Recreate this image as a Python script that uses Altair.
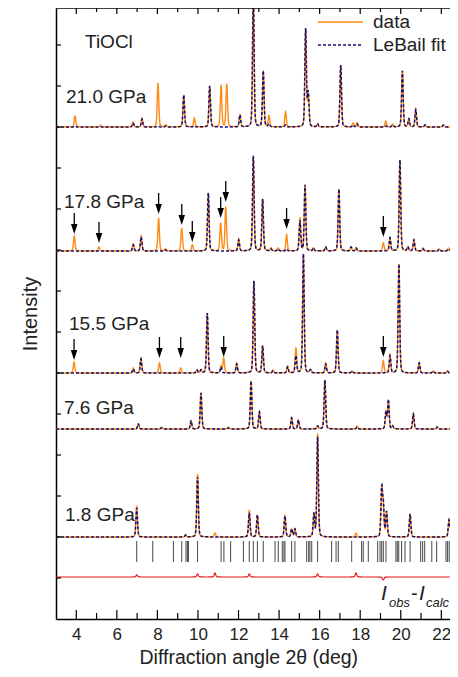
import altair as alt
import numpy as np
import pandas as pd

FONT = "Liberation Sans"
ORANGE = "#ff8a14"
NAVY = "#10107a"
RED = "#e8141a"

# ---------------- data ----------------
# peak positions (2theta, deg), observed and LeBail-calculated heights (intensity units)
P21_POS = [3.94, 5.2, 6.8, 7.24, 8.03, 8.42, 9.3, 9.82, 10.58, 11.14, 11.42, 12.07, 12.73, 13.22, 13.5,
           14.32, 15.31, 15.44, 15.9, 17.04, 17.65, 17.85, 19.26, 19.6, 20.08, 20.4, 20.74, 21.2, 22.1, 22.7]
P21_OBS = [11, 2, 5, 9, 44, 2, 32, 9, 41, 42, 43, 12, 135, 56, 11,
           15, 98, 30, 3, 62, 4, 4, 6, 3, 56, 8, 18, 2, 2, 3]
P21_CALC = [1, 0, 4, 8, 1, 1, 32, 1, 41, 0, 0, 12, 135, 56, 3,
            2, 98, 34, 3, 62, 2, 3, 1, 2, 56, 8, 17, 2, 2, 2]

P178_POS = [3.9, 5.12, 6.81, 7.2, 8.06, 8.4, 9.2, 9.72, 10.51, 11.12, 11.37, 12.01, 12.73, 13.19, 13.6,
            13.95, 14.37, 15.03, 15.28, 15.7, 16.3, 16.95, 17.55, 17.8, 19.14, 19.47, 19.96, 20.35, 20.65,
            21.1, 21.9, 22.35]
P178_OBS = [15, 4, 7, 15, 33, 2, 23, 6, 58, 28, 44, 12, 95, 52, 3,
            3, 16, 33, 66, 3, 4, 62, 4, 3, 8, 13, 91, 4, 11,
            3, 2, 3]
P178_CALC = [0, 0, 6, 14, 0, 1, 0, 0, 58, 0, 0, 11, 95, 52, 2,
             2, 2, 30, 66, 3, 4, 62, 4, 3, 0, 13, 91, 4, 11,
             2, 2, 2]

P155_POS = [3.89, 6.81, 7.19, 8.1, 9.15, 9.95, 10.15, 10.46, 11.14, 11.27, 11.91, 12.76, 13.19, 13.7,
            14.42, 14.83, 15.2, 15.55, 16.3, 16.87, 17.6, 19.14, 19.47, 19.91, 20.91, 21.6, 22.3]
P155_OBS = [11, 5, 15, 10, 5, 3, 3, 60, 7, 15, 10, 92, 27, 3,
            7, 25, 119, 3, 10, 43, 2, 12, 18, 109, 10, 2, 2]
P155_CALC = [0, 4, 14, 0, 0, 3, 3, 60, 6, 0, 9, 92, 27, 2,
             6, 17, 119, 3, 9, 43, 2, 0, 17, 109, 10, 2, 2]

P76_POS = [7.06, 8.2, 9.66, 10.15, 11.5, 12.62, 13.03, 14.62, 14.95, 15.9, 16.26, 17.85, 19.27, 19.39,
           19.6, 20.62, 21.8, 22.5]
P76_OBS = [5, 2, 8, 36, 2, 48, 17, 11, 9, 3, 49, 3, 17, 29, 3, 15, 2, 2]
P76_CALC = [5, 1, 8, 36, 1, 48, 17, 11, 9, 3, 49, 2, 17, 29, 3, 15, 2, 2]

P18_POS = [6.98, 9.4, 9.98, 10.84, 12.53, 12.93, 14.29, 14.62, 14.78, 15.72, 15.9, 17.79, 19.06, 19.14,
           19.3, 20.46, 22.38, 22.62]
P18_OBS = [31, 2, 63, 4, 27, 22, 21, 8, 8, 23, 103, 4, 47, 28, 25, 23, 17, 13]
P18_CALC = [29, 2, 60, 0, 24, 22, 21, 8, 8, 23, 100, 0, 47, 31, 25, 23, 17, 13]

PRESSURES = ["21.0 GPa", "17.8 GPa", "15.5 GPa", "7.6 GPa", "1.8 GPa"]
BASELINES = [492, 368, 246, 190, 82]
DIFF_BASE = 42

# Bragg reflection positions (1.8 GPa)
HKL_POS = [6.98, 7.77, 8.79, 9.2, 9.41, 9.48, 9.53, 9.98, 11.14, 11.28, 11.61, 12.24, 12.53, 12.73,
           12.93, 13.22, 13.8, 13.96, 14.16, 14.24, 14.29, 14.62, 14.78, 15.36, 15.46, 15.52, 15.61,
           15.9, 16.59, 16.81, 16.92, 17.58, 18.07, 18.15, 18.4, 18.86, 18.98, 19.06, 19.14, 19.27,
           19.76, 19.83, 19.9, 20.04, 20.21, 20.46, 20.98, 21.08, 21.18, 21.53, 21.77, 22.23, 22.31,
           22.39, 22.48, 22.62, 22.75]
HKL_LOW, HKL_HIGH = 57, 78

# arrows marking additional peaks (2theta, tip intensity)
ARROW_X = [3.9, 5.12, 8.06, 9.2, 9.72, 11.12, 11.37, 14.37, 19.14, 3.89, 8.1, 9.15, 11.27, 19.14]
ARROW_TIP = [385, 376, 405, 394, 377, 401, 417, 390, 382, 259, 261, 261, 262, 262]

TICK_MAJOR = [4, 6, 8, 10, 12, 14, 16, 18, 20, 22]
TICK_MINOR = [5, 7, 9, 11, 13, 15, 17, 19, 21]
Y_TICKS = [41 * k for k in range(1, 15)]

W, H = 394, 611
X_MIN = 3.0
X_MAX = X_MIN + W / 20.28

# ---------------- build tables ----------------
xg = np.round(np.arange(X_MIN, X_MAX + 1e-9, 0.01), 3)


def profile(pos, hts, w=0.09):
    y = np.zeros_like(xg)
    for p, h in zip(pos, hts):
        d = (xg - p) / w
        y += h * (0.75 * np.exp(-4 * np.log(2) * d * d) + 0.25 / (1 + 4 * d * d))
    return y


patterns = [
    (P21_POS, P21_OBS, P21_CALC),
    (P178_POS, P178_OBS, P178_CALC),
    (P155_POS, P155_OBS, P155_CALC),
    (P76_POS, P76_OBS, P76_CALC),
    (P18_POS, P18_OBS, P18_CALC),
]

obs_frames, calc_frames = [], []
for name, base, (pos, obs, calc) in zip(PRESSURES, BASELINES, patterns):
    obs_frames.append(pd.DataFrame({"x": xg, "y": np.round(base + profile(pos, obs), 2), "s": name}))
    calc_frames.append(pd.DataFrame({"x": xg, "y": np.round(base + profile(pos, calc), 2), "s": name}))
obs_df = pd.concat(obs_frames, ignore_index=True)
calc_df = pd.concat(calc_frames, ignore_index=True)

diff_df = pd.DataFrame({"x": xg, "y": np.round(DIFF_BASE + profile(P18_POS, P18_OBS) - profile(P18_POS, P18_CALC), 2)})
hkl_df = pd.DataFrame({"x": HKL_POS, "y": HKL_LOW, "y2": HKL_HIGH})
hkl_df = hkl_df[hkl_df.x < X_MAX]
arrow_df = pd.DataFrame({"x": ARROW_X, "tip": ARROW_TIP})
one = pd.DataFrame({"a": [0]})

# ---------------- encodings ----------------
XSC = alt.Scale(domain=[X_MIN, X_MAX], nice=False, zero=False)
YSC = alt.Scale(domain=[0, H], nice=False, zero=False)
XAX = alt.Axis(values=TICK_MAJOR, ticks=False, grid=False, domainColor="black", domainWidth=1.5,
               labelFont=FONT, labelFontSize=17, labelColor="#222", labelPadding=7, labelFlush=False,
               format="d", title="Diffraction angle 2θ (deg)", titleFont=FONT, titleFontSize=19.5,
               titleFontWeight="normal", titleColor="#222", titlePadding=6, titleAnchor="start",
               titleX=83, titleAlign="left")
YAX = alt.Axis(labels=False, ticks=False, grid=False, domainColor="black", domainWidth=1.5,
               title="Intensity", titleFont=FONT, titleFontSize=20, titleFontWeight="normal",
               titleColor="#222", titlePadding=16)


def X(field="x"):
    return alt.X(f"{field}:Q", scale=XSC, axis=XAX)


def Y(field="y"):
    return alt.Y(f"{field}:Q", scale=YSC, axis=YAX)


layers = []

obs_line = alt.Chart(obs_df).mark_line(color=ORANGE, strokeWidth=1.4, clip=True).encode(
    x=X(), y=Y(), detail="s:N")
calc_line = alt.Chart(calc_df).mark_line(color=NAVY, strokeWidth=1.5, strokeDash=[3, 2], clip=True).encode(
    x=X(), y=Y(), detail="s:N")
diff_line = alt.Chart(diff_df).mark_line(color=RED, strokeWidth=1.2, clip=True).encode(x=X(), y=Y())
hkl = alt.Chart(hkl_df).mark_rule(color="#333", strokeWidth=0.9).encode(
    x=X(), y=Y(), y2="y2:Q")
layers += [obs_line, calc_line, diff_line, hkl]

arrow_shaft = alt.Chart(arrow_df).transform_calculate(
    y0="datum.tip + 8", y1="datum.tip + 21").mark_rule(color="black", strokeWidth=1.3).encode(
    x=X(), y=Y("y0"), y2="y1:Q")
arrow_head = alt.Chart(arrow_df).mark_point(
    shape="M-0.65,-1L0.65,-1L0,1Z", filled=True, color="black", opacity=1, size=100,
    strokeWidth=0, yOffset=-5).encode(x=X(), y=Y("tip"))
layers += [arrow_shaft, arrow_head]

# frame ticks (pointing inward)
maj_df = pd.DataFrame({"x": TICK_MAJOR})
min_df = pd.DataFrame({"x": TICK_MINOR})
yt_df = pd.DataFrame({"y": Y_TICKS})
layers += [
    alt.Chart(maj_df).mark_rule(color="black", strokeWidth=1.2).encode(x=X(), y=alt.value(H), y2=alt.value(H - 9)),
    alt.Chart(min_df).mark_rule(color="black", strokeWidth=1.2).encode(x=X(), y=alt.value(H), y2=alt.value(H - 6)),
    alt.Chart(maj_df).mark_rule(color="black", strokeWidth=1.2).encode(x=X(), y=alt.value(0), y2=alt.value(6)),
    alt.Chart(min_df).mark_rule(color="black", strokeWidth=1.2).encode(x=X(), y=alt.value(0), y2=alt.value(4)),
    alt.Chart(yt_df).mark_rule(color="black", strokeWidth=1.2).encode(y=Y(), x=alt.value(0), x2=alt.value(5)),
    alt.Chart(one).mark_rule(color="black", strokeWidth=1.5).encode(x=alt.value(0), x2=alt.value(W), y=alt.value(0)),
]

# legend
layers += [
    alt.Chart(one).mark_rule(color=ORANGE, strokeWidth=1.5).encode(x=alt.value(262), x2=alt.value(307), y=alt.value(14)),
    alt.Chart(one).mark_rule(color=NAVY, strokeWidth=1.5, strokeDash=[3, 2]).encode(x=alt.value(262), x2=alt.value(307), y=alt.value(37)),
]


def label(text, x, y, size=19, style="normal", baseline="middle"):
    return alt.Chart(one).mark_text(text=text, font=FONT, fontSize=size, fontStyle=style, color="#222",
                                    align="left", baseline=baseline).encode(x=alt.value(x), y=alt.value(y))


layers += [
    label("data", 317, 14),
    label("LeBail fit", 317, 37),
    label("TiOCl", 29, 34),
    label("21.0 GPa", 10, 89),
    label("17.8 GPa", 8, 194),
    label("15.5 GPa", 13, 316),
    label("7.6 GPa", 8, 400),
    label("1.8 GPa", 9, 507),
    label("I", 325, 592, 21, "italic", "alphabetic"),
    label("obs", 333, 599, 13, "italic", "alphabetic"),
    label("-", 355, 592, 20, "normal", "alphabetic"),
    label("I", 363, 592, 21, "italic", "alphabetic"),
    label("calc", 370, 599, 13, "italic", "alphabetic"),
]

chart = alt.layer(*layers).properties(
    width=W, height=H,
    padding={"left": 48, "top": 0, "right": 0, "bottom": 50},
    autosize="none",
    background="white",
).configure_view(stroke=None)

chart.save("out.html", embed_options={"renderer": "svg", "actions": False})
